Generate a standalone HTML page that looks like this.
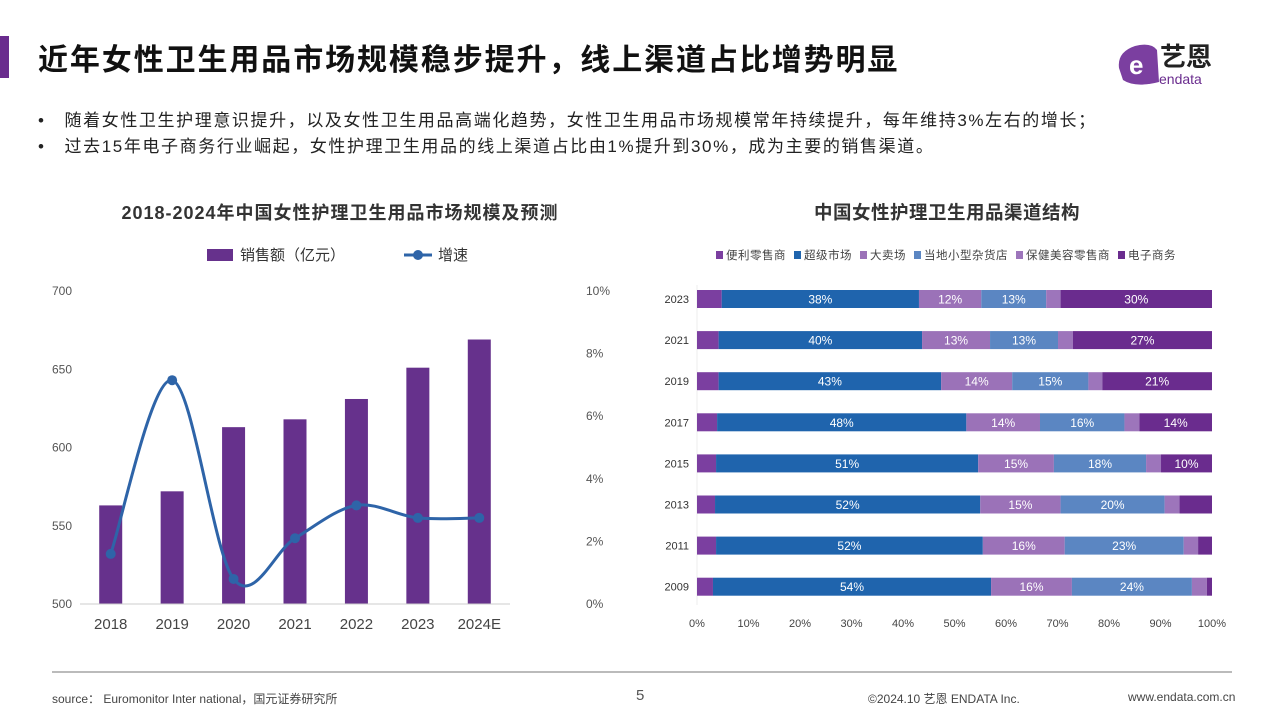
<!DOCTYPE html>
<html><head><meta charset="utf-8">
<style>
*{margin:0;padding:0;box-sizing:border-box}
body{width:1280px;height:720px;background:#fff;font-family:"Liberation Sans","Noto Sans CJK SC",sans-serif;color:#222;position:relative;overflow:hidden}
.abs{position:absolute}
</style></head><body>
<div class="abs" style="left:0;top:36px;width:9px;height:42px;background:#6a2c8e"></div>
<div class="abs" style="left:38px;top:35px;font-size:30px;letter-spacing:1.9px;font-weight:bold;color:#111;white-space:nowrap">近年女性卫生用品市场规模稳步提升，线上渠道占比增势明显</div>
<div class="abs" style="left:1115px;top:38px;width:130px;height:50px">
<svg width="130" height="50" viewBox="0 0 130 50"><path d="M4 30 Q2 14 20 8 Q36 4 42 12 L44 44 Q20 50 8 42 Z" fill="#7b3fa0"/><text x="14" y="36" font-size="26" font-weight="bold" fill="#fff" font-family="Liberation Sans">e</text><text x="45" y="28" font-size="26" font-weight="bold" fill="#222" font-family="Noto Sans CJK SC">艺恩</text><text x="44" y="46" font-size="14" fill="#6a2c8e" font-family="Liberation Sans">endata</text></svg></div>
<div class="abs" style="left:38px;top:106px;font-size:17px;letter-spacing:1.6px;color:#222;white-space:nowrap">•&nbsp;&nbsp;&nbsp;随着女性卫生护理意识提升，以及女性卫生用品高端化趋势，女性卫生用品市场规模常年持续提升，每年维持3%左右的增长；</div>
<div class="abs" style="left:38px;top:132px;font-size:17px;letter-spacing:1.6px;color:#222;white-space:nowrap">•&nbsp;&nbsp;&nbsp;过去15年电子商务行业崛起，女性护理卫生用品的线上渠道占比由1%提升到30%，成为主要的销售渠道。</div>
<div class="abs" style="left:60px;top:199px;width:560px;text-align:center;font-size:18px;letter-spacing:1px;font-weight:bold;color:#333">2018-2024年中国女性护理卫生用品市场规模及预测</div>
<div class="abs" style="left:700px;top:199px;width:494px;text-align:center;font-size:18.5px;letter-spacing:0.5px;font-weight:bold;color:#333">中国女性护理卫生用品渠道结构</div>
<svg id="c1" class="abs" style="left:0;top:0" width="1280" height="720"></svg>
<div class="abs" style="left:52px;top:671px;width:1180px;height:2px;background:#bbb"></div>
<div class="abs" style="left:52px;top:690px;font-size:12px;color:#444">source： Euromonitor Inter national，国元证券研究所</div>
<div class="abs" style="left:636px;top:687px;font-size:15px;color:#555">5</div>
<div class="abs" style="left:868px;top:690px;font-size:12px;color:#444">©2024.10 艺恩 ENDATA Inc.</div>
<div class="abs" style="left:1128px;top:690px;font-size:12px;color:#444">www.endata.com.cn</div>
<script>
const years=['2018','2019','2020','2021','2022','2023','2024E'];
const sales=[563,572,613,618,631,651,669];
const growth=[1.6,7.15,0.8,2.1,3.15,2.75,2.75];
const leftTicks=[500,550,600,650,700];
const rightTicks=[0,2,4,6,8,10];
const chYears=['2023','2021','2019','2017','2015','2013','2011','2009'];
const chNames=['便利零售商','超级市场','大卖场','当地小型杂货店','保健美容零售商','电子商务'];
const chColors=['#7b3fa0','#1f64ad','#9b72b8','#5b86c2','#9d75bb','#6a2c8e'];
const shares=[
[4.8,38.3,12.1,12.6,2.8,29.4],
[4.2,39.5,13.2,13.2,2.9,27.0],
[4.2,43.2,13.8,14.8,2.7,21.3],
[3.9,48.4,14.3,16.4,2.9,14.1],
[3.7,50.9,14.7,17.9,2.9,9.9],
[3.5,51.5,15.6,20.2,2.9,6.3],
[3.7,51.8,15.9,23.1,2.8,2.7],
[3.1,54.0,15.7,23.3,2.9,1.0]];
const shareLabels=[
['','38%','12%','13%','','30%'],
['','40%','13%','13%','','27%'],
['','43%','14%','15%','','21%'],
['','48%','14%','16%','','14%'],
['','51%','15%','18%','','10%'],
['','52%','15%','20%','',''],
['','52%','16%','23%','',''],
['','54%','16%','24%','','']];
const xTicks=[0,10,20,30,40,50,60,70,80,90,100];

const svg=document.getElementById('c1');const NS='http://www.w3.org/2000/svg';
function mk(t,a,p){const e=document.createElementNS(NS,t);for(const k in a)e.setAttribute(k,a[k]);(p||svg).appendChild(e);return e;}
function tx(x,y,s,a){const e=mk('text',Object.assign({x:x,y:y,'font-family':'Liberation Sans, Noto Sans CJK SC, sans-serif'},a));e.textContent=s;return e;}
const L={x0:80,x1:510,y0:604,y1:291};
const yL=v=>L.y0-(v-500)/200*(L.y0-L.y1);
const yR=v=>L.y0-v/10*(L.y0-L.y1);
const bw=(L.x1-L.x0)/years.length;
const cx=i=>L.x0+bw*(i+0.5);
leftTicks.forEach(v=>{const t=tx(52,yL(v)+4,v,{'font-size':12,fill:'#555','text-anchor':'start'});});
rightTicks.forEach(v=>{const t=tx(586,yR(v)+4,v+'%',{'font-size':12,fill:'#555'});});
sales.forEach((v,i)=>{const r=mk('rect',{x:cx(i)-11.5,y:yL(v),width:23,height:L.y0-yL(v),fill:'#66318c'});


const t=tx(cx(i),629,years[i],{'font-size':15,fill:'#444','text-anchor':'middle'});

});
const ax=mk('line',{x1:L.x0,x2:L.x1,y1:L.y0,y2:L.y0,stroke:'#ccc','stroke-width':1});


const P=growth.map((v,i)=>[cx(i),yR(v)]);
let d='M'+P[0][0]+' '+P[0][1];
for(let i=0;i<P.length-1;i++){const p0=P[Math.max(0,i-1)],p1=P[i],p2=P[i+1],p3=P[Math.min(P.length-1,i+2)];
d+=` C${p1[0]+(p2[0]-p0[0])/6} ${p1[1]+(p2[1]-p0[1])/6} ${p2[0]-(p3[0]-p1[0])/6} ${p2[1]-(p3[1]-p1[1])/6} ${p2[0]} ${p2[1]}`;}
const ln=mk('path',{d:d,fill:'none',stroke:'#2e64a8','stroke-width':3});


P.forEach((p,i)=>{const c=mk('circle',{cx:p[0],cy:p[1],r:5,fill:'#2e64a8'});

});
const lg1=mk('rect',{x:207,y:249,width:26,height:12,fill:'#66318c'});


tx(240,260,'销售额（亿元）',{'font-size':15,fill:'#333'});
const lg2=mk('line',{x1:404,x2:432,y1:255,y2:255,stroke:'#2e64a8','stroke-width':3});


mk('circle',{cx:418,cy:255,r:5,fill:'#2e64a8'});
tx(438,260,'增速',{'font-size':15,fill:'#333'});
const R={x0:697,x1:1212,yTop:299,step:41.1,h:18};
const xs=v=>R.x0+v/100*(R.x1-R.x0);
mk('line',{x1:697,x2:697,y1:285,y2:605,stroke:'#eee','stroke-width':1});
xTicks.forEach(v=>{const t=tx(xs(v),627,v+'%',{'font-size':11,fill:'#444','text-anchor':'middle'});});
chYears.forEach((y,r)=>{const yc=R.yTop+r*R.step;
const t=tx(689,yc+4,y,{'font-size':11,fill:'#333','text-anchor':'end'});


const tot=shares[r].reduce((a,b)=>a+b,0);let acc=0;
shares[r].forEach((v,k)=>{const a=xs(acc/tot*100),b=xs((acc+v)/tot*100);acc+=v;
const s=mk('rect',{x:a,y:yc-R.h/2,width:b-a,height:R.h,fill:chColors[k]});


if(shareLabels[r][k])tx((a+b)/2,yc+4.5,shareLabels[r][k],{'font-size':12,fill:'#fff','text-anchor':'middle'});});});
let lx=716;
chNames.forEach((n,k)=>{const s=mk('rect',{x:lx,y:251,width:7,height:8,fill:chColors[k]});


tx(lx+10,259,n,{'font-size':11.5,fill:'#444','letter-spacing':0.5});lx+=10+n.length*12+8;});
</script>
</body></html>
